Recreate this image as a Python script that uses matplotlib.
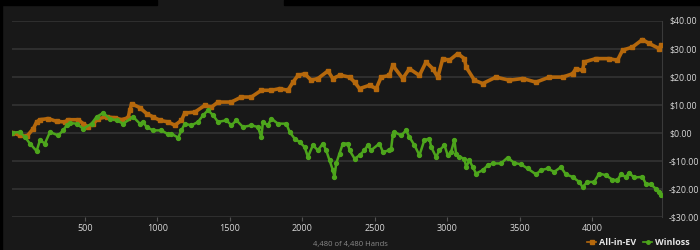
import matplotlib.pyplot as plt
from matplotlib.patches import Rectangle

# hands / dollars
ev_hands = [0, 52, 100, 144, 167, 190, 247, 305, 362, 385, 454, 488, 523, 557, 592, 650, 707, 753, 798,
            810, 822, 879, 925, 970, 1016, 1074, 1120, 1166, 1189, 1258, 1326, 1373, 1418, 1510, 1579,
            1648, 1717, 1786, 1843, 1900, 1935, 1969, 2015, 2061, 2107, 2176, 2210, 2260, 2325, 2360,
            2394, 2463, 2509, 2543, 2600, 2623, 2692, 2738, 2807, 2853, 2899, 2934, 2968, 3014, 3071,
            3117, 3129, 3186, 3243, 3335, 3427, 3519, 3611, 3703, 3795, 3863, 3886, 3932, 3944, 4024,
            4116, 4173, 4208, 4276, 4345, 4391, 4460, 4472]
ev_vals = [0, -1, -1.3, 1.4, 3.8, 4.6, 5, 4, 3.8, 4.6, 4.6, 3.2, 2, 3.2, 5, 5.6, 5.3, 4.6, 5.3,
           8, 10.3, 8.9, 6.8, 5.6, 4.4, 3.8, 2.6, 4.4, 7, 7.3, 9.7, 9.1, 10.9, 10.9, 12.7,
           12.7, 15.1, 15.1, 15.7, 15.1, 18, 20.4, 21, 18.7, 19.3, 22, 19.3, 20.5, 19.8, 18,
           15.7, 16.9, 15.7, 19.8, 20.4, 24, 19.3, 22.8, 20.4, 25.2, 22.8, 19.8, 26.4, 25.8, 28.2,
           26.4, 23.4, 18.7, 17.5, 19.8, 18.7, 19.3, 18, 19.8, 19.8, 21, 22.8, 22.2, 25.2, 26.4,
           26.4, 25.8, 29.4, 30.5, 33.2, 31.8, 30, 31.2]

wl_hands = [0, 52, 87, 121, 167, 190, 224, 259, 316, 350, 374, 397, 443, 488, 546, 580, 626, 672, 718,
            764, 833, 879, 902, 925, 970, 1028, 1074, 1097, 1143, 1166, 1189, 1235, 1280, 1315, 1349,
            1384, 1418, 1476, 1510, 1545, 1590, 1648, 1693, 1717, 1728, 1762, 1786, 1831, 1889, 1912,
            1946, 1981, 2015, 2038, 2072, 2107, 2141, 2164, 2187, 2210, 2221, 2233, 2256, 2279, 2313,
            2325, 2360, 2394, 2428, 2451, 2474, 2531, 2555, 2600, 2612, 2623, 2635, 2681, 2715, 2738,
            2773, 2807, 2841, 2876, 2888, 2922, 2945, 2980, 3002, 3025, 3048, 3060, 3083, 3117, 3129,
            3152, 3175, 3198, 3243, 3278, 3312, 3369, 3415, 3461, 3507, 3553, 3611, 3645, 3691, 3737,
            3783, 3817, 3863, 3909, 3932, 3966, 4012, 4047, 4093, 4138, 4173, 4196, 4230, 4253, 4288,
            4345, 4368, 4402, 4437, 4460, 4472]
wl_vals = [0, 0.2, -1.6, -3.9, -6.6, -2.7, -3.9, 0.2, -1, 0.8, 2.6, 3.4, 3.2, 1.4, 3.2, 5.6, 7, 5, 4.4,
           3.2, 5.6, 3.2, 3.8, 2, 0.8, 0.8, -0.6, -0.4, -1.8, 0.8, 3.2, 2.6, 3.8, 6.2, 8,
           6.2, 3.8, 4.4, 2.6, 4.4, 2, 2.6, 2, -1.6, 3.8, 2.6, 5, 3.2, 3.2, 0.2,
           -2.1, -3.4, -5.1, -8.7, -4.5, -6.3, -3.9, -6.3, -9.9, -13.4, -15.8, -11, -7.5, -3.9, -3.9,
           -6.3, -9.3, -8.1, -6.3, -4.5, -6.3, -3.9, -6.9, -6.3, -5.7, -1, 0.2, -1, 0.8, -1.6,
           -4.5, -8.1, -2.7, -2.1, -5.1, -8.7, -6.3, -4.5, -8.1, -6.9, -2.7, -7.5, -8.7, -9.3, -12.3,
           -9.9, -12.3, -14.6, -13.4, -11.7, -11, -11, -8.9, -10.8, -11.3, -12.8, -14.9, -13.4, -12.8, -14,
           -12.3, -14.9, -15.8, -17.6, -19.4, -17.6, -17.6, -14.6, -15.2, -16.8, -17, -14.9, -15.8, -14.4, -16,
           -15.8, -18.2, -18.4, -20, -21.2, -22.4]

x_ticks = [500, 1000, 1500, 2000, 2500, 3000, 3500, 4000]
y_ticks = [-30, -20, -10, 0, 10, 20, 30, 40]
total_hands = 4480

panel = '#181818'
orange = '#b5680c'
green = '#4da51c'

plt.rcParams['font.family'] = ['Open Sans', 'DejaVu Sans']

fig = plt.figure(figsize=(7, 2.5), dpi=100, facecolor=panel)
# black frame strips at top and left
fig.patches.append(Rectangle((0, 1 - 5 / 250), 157 / 700, 5 / 250, transform=fig.transFigure, color='black', zorder=0))
fig.patches.append(Rectangle((284 / 700, 1 - 5 / 250), 1, 5 / 250, transform=fig.transFigure, color='black', zorder=0))
fig.patches.append(Rectangle((0, 0), 2 / 700, 1, transform=fig.transFigure, color='black', zorder=0))

ax = fig.add_axes([12.4 / 700, 1 - 216.7 / 250, (662 - 12.4) / 700, (216.7 - 20.5) / 250])
ax.set_facecolor(panel)

ax.plot(ev_hands, ev_vals, color=orange, lw=2.6, marker='s', ms=2.8, label='All-in-EV', zorder=3)
ax.plot(wl_hands, wl_vals, color=green, lw=1.8, marker='o', ms=2.8, label='Winloss', zorder=4)

ax.set_xlim(0, total_hands)
ax.set_ylim(-30, 40)
ax.set_xticks(x_ticks)
ax.set_yticks(y_ticks)
ax.set_yticklabels([f'-${-v:.2f}' if v < 0 else f'${v:.2f}' for v in y_ticks])
ax.yaxis.tick_right()
ax.grid(axis='y', color='#333333', lw=1.2)
ax.set_axisbelow(True)
for s in ['top', 'left', 'bottom']:
    ax.spines[s].set_visible(False)
ax.spines['right'].set_color('#3a3a3a')
ax.tick_params(axis='x', colors='#555555', labelcolor='#d8d8d8', length=3, labelsize=6.5, pad=2)
ax.tick_params(axis='y', length=0, labelcolor='#d8d8d8', labelsize=6.3, pad=5)

fig.text(0.5, 0.008, f'{total_hands:,} of {total_hands:,} Hands', color='#8a8a8a', fontsize=5.5,
         ha='center', va='bottom')

leg = ax.legend(loc='lower right', bbox_to_anchor=(0.997, -0.02), bbox_transform=fig.transFigure,
                ncol=2, frameon=False, fontsize=6.5, handlelength=1.0, handletextpad=0.3,
                columnspacing=0.8, markerscale=0.9)
for t in leg.get_texts():
    t.set_color('#e6e6e6')
    t.set_fontweight('bold')
for h in leg.legend_handles:
    h.set_linewidth(1.2)

fig.savefig('out.png', dpi=100, facecolor=panel)
